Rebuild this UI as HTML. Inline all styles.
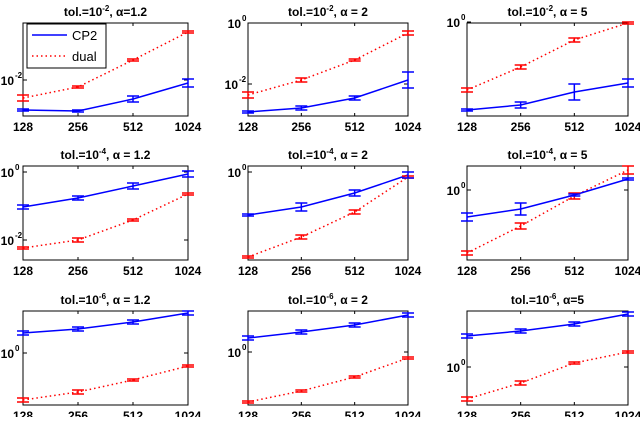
<!DOCTYPE html>
<html><head><meta charset="utf-8"><style>
html,body{margin:0;padding:0;background:#fff;}
svg text{font-family:"Liberation Sans",Arial,sans-serif;font-weight:bold;fill:#000;}
</style></head><body>
<svg id="s" width="640" height="417" xmlns="http://www.w3.org/2000/svg"></svg>
<script>
const cols=[[23,188],[248,408],[467,628]];
const rows=[[23,116],[166,260],[311,405]];
const titles=[
 [["-2",", α=1.2"],["-2",", α = 2"],["-2",", α = 5"]],
 [["-4",", α = 1.2"],["-4",", α = 2"],["-4",", α = 5"]],
 [["-6",", α = 1.2"],["-6",", α = 2"],["-6",", α=5"]]];
const data=[
 [{b:[110,111,99,83],r:[98,87,60,32],l:[["-2",80]]},
  {b:[112,108,98,80],r:[95,80,60,33],l:[["0",23],["-2",84]]},
  {b:[110,105,92,83],r:[90,67,40,23],l:[["0",22]]}],
 [{b:[207,198,186,174],r:[248,240,220,194],l:[["0",172],["-2",240]]},
  {b:[215,207,193,175],r:[257,237,212,177],l:[["0",172]]},
  {b:[217,209,195,179],r:[253,226,196,170],l:[["0",190]]}],
 [{b:[333,329,322,313],r:[400,392,380,366],l:[["0",353]]},
  {b:[338,332,325,315],r:[402,391,377,358],l:[["0",352]]},
  {b:[336,331,324,314],r:[399,383,363,352],l:[["0",367]]}]];
const errB=[[[0,0,3,4],[0,2,2,8],[0,3,8,4]],[[2,2,3,3],[0,4,3,3],[4,6,0,0]],[[2,2,2,2],[2,2,2,2],[2,2,2,2]]];
const errR=[[[3,1,1,1],[3,2,1,2],[2,2,2,0]],[[1,2,1,1],[1,2,2,1],[2,3,3,4]],[[2,2,1,1],[1,1,1,1],[2,2,1,1]]];
let h='';
for(let i=0;i<3;i++)for(let j=0;j<3;j++){
 const [x0,x1]=cols[j],[y0,y1]=rows[i],d=data[i][j];
 const xs=[0,1,2,3].map(k=>x0+(x1-x0)*k/3);
 h+=`<rect x="${x0}" y="${y0}" width="${x1-x0}" height="${y1-y0}" fill="#fff" stroke="#000" stroke-width="1"/>`;
 ['128','256','512','1024'].forEach((t,k)=>{
  h+=`<line x1="${xs[k]}" y1="${y1}" x2="${xs[k]}" y2="${y1-3}" stroke="#000"/><line x1="${xs[k]}" y1="${y0}" x2="${xs[k]}" y2="${y0+3}" stroke="#000"/>`;
  h+=`<text x="${xs[k]}" y="${y1+15}" font-size="12" text-anchor="middle">${t}</text>`;});
 d.l.forEach(([e,y])=>{
  h+=`<line x1="${x0}" y1="${y}" x2="${x0+4}" y2="${y}" stroke="#000"/><line x1="${x1}" y1="${y}" x2="${x1-4}" y2="${y}" stroke="#000"/>`;
  let ex=e==="0"?x0-6:x0-9;
  if(j===0) ex=x0-8;
  h+=`<text x="${ex-1}" y="${y+5}" font-size="12" text-anchor="end">10</text><text x="${ex}" y="${y-2}" font-size="8" text-anchor="start">${e}</text>`;});
 const tt=titles[i][j];
 h+=`<text x="${(x0+x1)/2}" y="${y0-7}" font-size="12" text-anchor="middle">tol.=10<tspan font-size="8" dy="-5">${tt[0]}</tspan><tspan dy="5">${tt[1]}</tspan></text>`;
 const pl=(ys)=>xs.map((x,k)=>x+','+ys[k]).join(' ');
 h+=`<polyline points="${pl(d.r)}" fill="none" stroke="#f00" stroke-width="1.5" stroke-dasharray="1.5,3"/>`;
 h+=`<polyline points="${pl(d.b)}" fill="none" stroke="#00f" stroke-width="1.5"/>`;
 const eb=(ys,es,c)=>xs.forEach((x,k)=>{const e=Math.max(es[k],1);
  h+=`<path d="M${x},${ys[k]-e}V${ys[k]+e}M${x-6},${ys[k]-e}H${x+6}M${x-6},${ys[k]+e}H${x+6}" stroke="${c}" stroke-width="1.5" fill="none"/>`;});
 eb(d.r,errR[i][j],'#f00');eb(d.b,errB[i][j],'#00f');
}
h+=`<rect x="27" y="24" width="79" height="44" fill="#fff" stroke="#000"/>`;
h+=`<line x1="32" y1="35" x2="67" y2="35" stroke="#00f" stroke-width="1.5"/><text x="72" y="40" font-size="13" style="font-weight:normal">CP2</text>`;
h+=`<line x1="32" y1="56" x2="67" y2="56" stroke="#f00" stroke-width="1.5" stroke-dasharray="1.5,3"/><text x="72" y="61" font-size="13" style="font-weight:normal">dual</text>`;
document.getElementById('s').innerHTML=h;
</script>
</body></html>
